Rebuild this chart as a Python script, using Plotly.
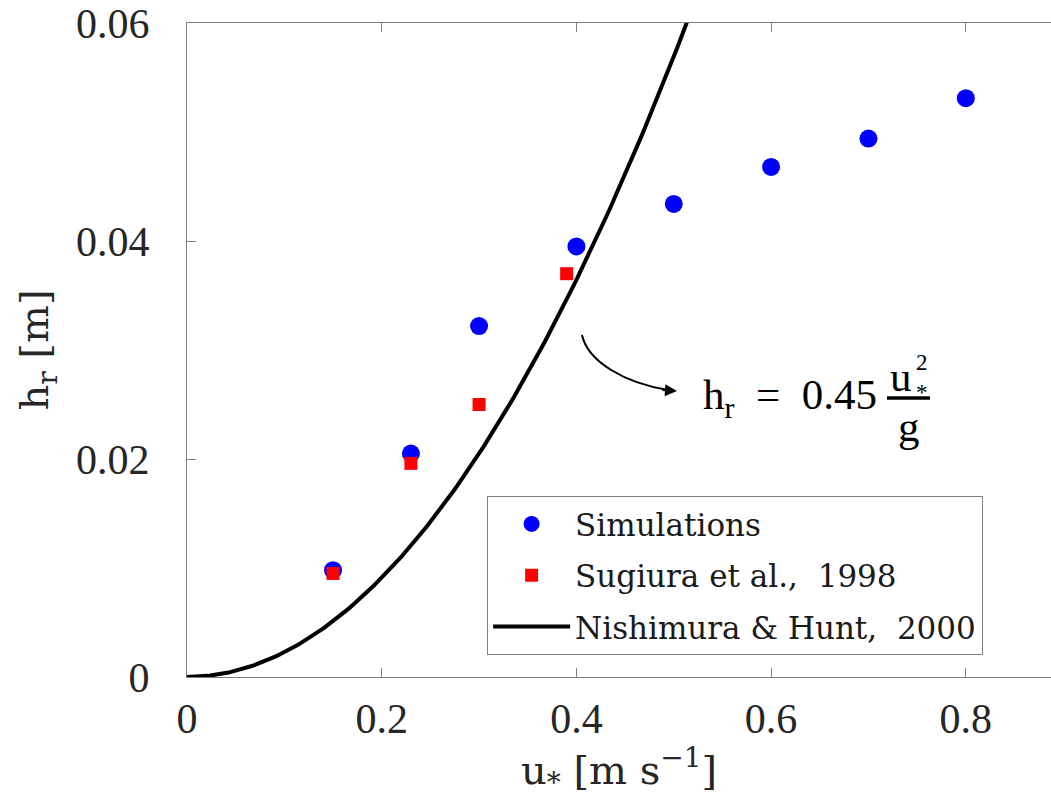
import numpy as np
import plotly.graph_objects as go

# Friction velocity u* [m/s] and roughness height h_r [m]
sim_u = [0.15, 0.23, 0.30, 0.40, 0.50, 0.60, 0.70, 0.80]
sim_h = [0.0098, 0.0205, 0.0322, 0.0395, 0.0434, 0.0468, 0.0494, 0.0531]

sug_u = [0.15, 0.23, 0.30, 0.39]
sug_h = [0.0095, 0.0196, 0.0250, 0.0370]

# Nishimura & Hunt (2000) parabolic relation, h_r proportional to u*^2
nh_coef = 0.2277
nh_u = np.linspace(0.0, 0.53, 200)
nh_h = nh_coef * nh_u ** 2

x_ticks = [0, 0.2, 0.4, 0.6, 0.8]
x_ticklabels = ["0", "0.2", "0.4", "0.6", "0.8"]
y_ticks = [0, 0.02, 0.04, 0.06]
y_ticklabels = ["0", "0.02", "0.04", "0.06"]

TICK_FONT = dict(family="Liberation Serif", size=42, color="#262626")
LATEX_FONT = "DejaVu Serif"
AXIS_GREY = "#7f7f7f"

fig = go.Figure()

fig.add_trace(go.Scatter(
    x=sim_u, y=sim_h, mode="markers", name="Simulations",
    legendgroup="a",
    marker=dict(symbol="circle", size=18, color="#0000ff", line=dict(width=0)),
))
fig.add_trace(go.Scatter(
    x=sug_u, y=sug_h, mode="markers", name="Sugiura et al.,  1998",
    legendgroup="b",
    marker=dict(symbol="square", size=13, color="#ff0000", line=dict(width=0)),
))
fig.add_trace(go.Scatter(
    x=nh_u, y=nh_h, mode="lines", name="Nishimura & Hunt,  2000",
    legendgroup="c",
    line=dict(color="black", width=4),
))

# curved pointer from the model curve to its equation
fig.add_shape(
    type="path",
    path="M 0.4057,0.03137 C 0.4119,0.0289 0.4499,0.02697 0.4941,0.02633",
    xref="x", yref="y",
    line=dict(color="black", width=2),
)
fig.add_annotation(
    x=0.5033, y=0.02624, xref="x", yref="y",
    ax=-16, ay=-1, axref="pixel", ayref="pixel",
    text="", showarrow=True, arrowhead=2, arrowsize=1.2, arrowwidth=2,
    arrowcolor="black",
)

# equation  h_r = 0.45 u*^2 / g
EQ_FONT = dict(family="Liberation Serif", size=43, color="black")
EQ_SMALL = dict(family="Liberation Serif", size=23, color="black")
fig.add_annotation(
    x=0.8009, y=0.4266, xref="paper", yref="paper",
    xanchor="right", yanchor="middle",
    text="h<sub>r</sub>\u00a0\u00a0=\u00a0\u00a00.45", showarrow=False, font=EQ_FONT,
)
fig.add_shape(
    type="line", xref="paper", yref="paper",
    x0=0.8102, x1=0.8600, y0=0.4266, y1=0.4266,
    line=dict(color="black", width=3.5),
)
fig.add_annotation(
    x=0.8264, y=0.4602, xref="paper", yref="paper",
    xanchor="center", yanchor="middle",
    text="u", showarrow=False, font=EQ_FONT,
)
# stacked exponent and subscript of u
fig.add_annotation(
    x=0.8507, y=0.4587, xref="paper", yref="paper",
    xanchor="center", yanchor="middle",
    text="2<br>*", showarrow=False, font=EQ_SMALL,
)
fig.add_annotation(
    x=0.8351, y=0.3830, xref="paper", yref="paper",
    xanchor="center", yanchor="middle",
    text="g", showarrow=False, font=EQ_FONT,
)

fig.update_layout(
    width=1051, height=799,
    margin=dict(l=187, r=0, t=23, b=122, autoexpand=False),
    paper_bgcolor="white", plot_bgcolor="white",
    showlegend=True,
    legend=dict(
        x=0.347, y=0.2768, xanchor="left", yanchor="top",
        bgcolor="white", bordercolor=AXIS_GREY, borderwidth=1.3,
        font=dict(family=LATEX_FONT, size=31, color="#1a1a1a"),
        tracegroupgap=8, itemwidth=77,
    ),
)

fig.update_xaxes(
    range=[0, 0.8875], tickvals=x_ticks, ticktext=x_ticklabels,
    ticks="inside", ticklen=9, tickwidth=1.3, tickcolor=AXIS_GREY,
    showline=True, linecolor=AXIS_GREY, linewidth=1.3, mirror="ticks",
    showgrid=False, zeroline=False, tickfont=TICK_FONT,
    ticklabelstandoff=4,
    title=dict(text="u<sub>*</sub> [m s<sup>−1</sup>]",
               font=dict(family=LATEX_FONT, size=40, color="#262626"),
               standoff=2),
)
fig.update_yaxes(
    range=[0, 0.06], tickvals=y_ticks, ticktext=y_ticklabels,
    ticks="inside", ticklen=9, tickwidth=1.3, tickcolor=AXIS_GREY,
    showline=True, linecolor=AXIS_GREY, linewidth=1.3, mirror=False,
    showgrid=False, zeroline=False, tickfont=TICK_FONT,
    ticklabelstandoff=28,
    title=dict(text="h<sub>r</sub> [m]",
               font=dict(family=LATEX_FONT, size=40, color="#262626"),
               standoff=14),
)

fig.write_html("out.html")
